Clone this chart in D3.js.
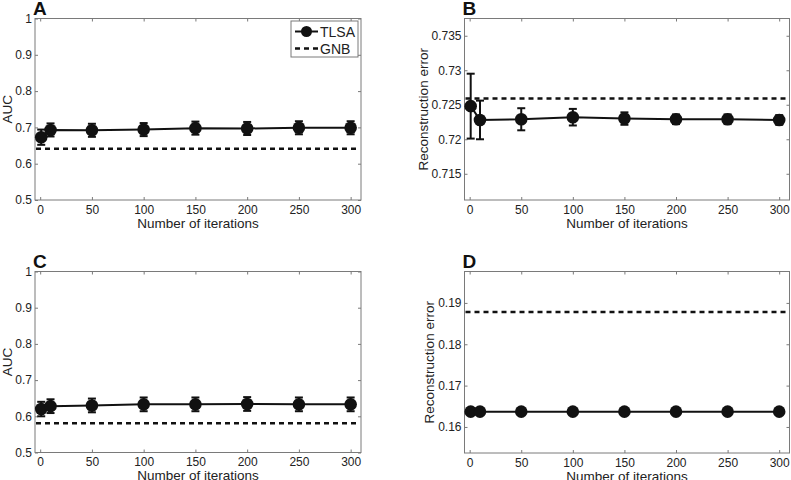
<!DOCTYPE html>
<html>
<head>
<meta charset="utf-8">
<script src="https://cdn.jsdelivr.net/npm/d3@7"></script>
<style>
  body { margin: 0; background: #fff; }
  svg { display: block; }
  svg text { font-family: "Liberation Sans", Arial, sans-serif; }
</style>
</head>
<body>
<svg id="chart" width="791" height="480"></svg>
<script>
const iterations = [1, 10, 50, 100, 150, 200, 250, 300];
const xTicks = [0, 50, 100, 150, 200, 250, 300];

// A: AUC
const aucA = [0.673, 0.693, 0.692, 0.694, 0.698, 0.697, 0.699, 0.699];
const aucAErr = [0.021, 0.018, 0.018, 0.018, 0.018, 0.018, 0.018, 0.018];
const gnbA = 0.641;

// B: reconstruction error
const reconB = [0.7248, 0.7228, 0.7229, 0.7232, 0.7230, 0.7229, 0.7229, 0.7228];
const reconBErr = [0.0047, 0.0028, 0.0016, 0.0012, 0.0009, 0.0007, 0.0007, 0.0007];
const gnbB = 0.7259;

// C: AUC
const aucC = [0.620, 0.628, 0.630, 0.633, 0.633, 0.634, 0.633, 0.633];
const aucCErr = [0.02, 0.019, 0.019, 0.019, 0.019, 0.019, 0.019, 0.019];
const gnbC = 0.581;

// D: reconstruction error
const reconD = [0.1637, 0.1637, 0.1637, 0.1637, 0.1637, 0.1637, 0.1637, 0.1637];
const reconDErr = [0, 0, 0, 0, 0, 0, 0, 0];
const gnbD = 0.1878;

const aucTicks = [0.5, 0.6, 0.7, 0.8, 0.9, 1];
const reconBTicks = [0.715, 0.72, 0.725, 0.73, 0.735];
const reconDTicks = [0.16, 0.17, 0.18, 0.19];

const panels = [
  { letter: 'A', left: 35, right: 361, top: 18.5, bottom: 200, yDomain: [0.5, 1], yTicks: aucTicks,
    ylabel: 'AUC', ylabelX: 7, values: aucA, errs: aucAErr, gnb: gnbA, legend: true },
  { letter: 'B', left: 464.5, right: 789.5, top: 18.5, bottom: 200, yDomain: [0.7112, 0.7375], yTicks: reconBTicks,
    ylabel: 'Reconstruction error', ylabelX: 423, values: reconB, errs: reconBErr, gnb: gnbB },
  { letter: 'C', left: 35, right: 361, top: 271.5, bottom: 452.5, yDomain: [0.5, 1], yTicks: aucTicks,
    ylabel: 'AUC', ylabelX: 7, values: aucC, errs: aucCErr, gnb: gnbC },
  { letter: 'D', left: 464.5, right: 789.5, top: 271.5, bottom: 453, yDomain: [0.1537, 0.1976], yTicks: reconDTicks,
    ylabel: 'Reconstruction error', ylabelX: 429, values: reconD, errs: reconDErr, gnb: gnbD }
];

const svg = d3.select('#chart');
const axisColor = '#7a7a7a';
const textColor = '#222';
const fmt = d3.format('~g');

panels.forEach((p) => {
  const x = d3.scaleLinear().domain([-5, 310]).range([p.left, p.right]);
  const y = d3.scaleLinear().domain(p.yDomain).range([p.bottom, p.top]);
  const g = svg.append('g');

  // box
  g.append('rect')
    .attr('x', p.left).attr('y', p.top)
    .attr('width', p.right - p.left).attr('height', p.bottom - p.top)
    .attr('fill', 'none').attr('stroke', axisColor).attr('stroke-width', 1);

  // axes with inward ticks, mirrored on top/right
  const styleAxis = (sel) => {
    sel.attr('font-family', null).attr('font-size', null);
    sel.select('.domain').remove();
    sel.selectAll('.tick line').attr('stroke', axisColor);
    sel.selectAll('.tick text').attr('fill', textColor).style('font-size', '12px');
  };
  g.append('g').attr('transform', `translate(0,${p.bottom})`)
    .call(d3.axisBottom(x).tickValues(xTicks).tickSizeInner(-3).tickPadding(5).tickFormat(fmt))
    .call(styleAxis);
  g.append('g').attr('transform', `translate(0,${p.top})`)
    .call(d3.axisTop(x).tickValues(xTicks).tickSizeInner(-3).tickFormat(''))
    .call(styleAxis);
  g.append('g').attr('transform', `translate(${p.left},0)`)
    .call(d3.axisLeft(y).tickValues(p.yTicks).tickSizeInner(-3).tickPadding(3).tickFormat(fmt))
    .call(styleAxis);
  g.append('g').attr('transform', `translate(${p.right},0)`)
    .call(d3.axisRight(y).tickValues(p.yTicks).tickSizeInner(-3).tickFormat(''))
    .call(styleAxis);

  // labels
  g.append('text')
    .attr('x', (p.left + p.right) / 2).attr('y', p.bottom + 27.5)
    .attr('text-anchor', 'middle').attr('fill', textColor).style('font-size', '13.5px')
    .text('Number of iterations');
  g.append('text')
    .attr('transform', `translate(${p.ylabelX},${(p.top + p.bottom) / 2}) rotate(-90)`)
    .attr('text-anchor', 'middle').attr('dy', '0.36em').attr('fill', textColor).style('font-size', '13.5px')
    .text(p.ylabel);
  g.append('text')
    .attr('x', p.left - 2).attr('y', p.top - 3.5)
    .attr('fill', '#111').style('font-size', '19px').style('font-weight', 'bold')
    .text(p.letter);

  // GNB dashed baseline
  g.append('line')
    .attr('x1', p.left + 1).attr('x2', p.right - 1)
    .attr('y1', y(p.gnb)).attr('y2', y(p.gnb))
    .attr('stroke', '#111').attr('stroke-width', 2.5).attr('stroke-dasharray', '5,4');

  const pts = iterations.map((it, i) => ({ it, v: p.values[i], e: p.errs[i] }));

  // TLSA line
  g.append('path')
    .datum(pts)
    .attr('fill', 'none').attr('stroke', '#111').attr('stroke-width', 2)
    .attr('d', d3.line().x((d) => x(d.it)).y((d) => y(d.v)));

  // error bars
  const eb = g.selectAll('.eb').data(pts.filter((d) => d.e > 0)).enter().append('g')
    .attr('stroke', '#111').attr('stroke-width', 2);
  eb.append('line')
    .attr('x1', (d) => x(d.it)).attr('x2', (d) => x(d.it))
    .attr('y1', (d) => y(d.v - d.e)).attr('y2', (d) => y(d.v + d.e));
  eb.append('line')
    .attr('x1', (d) => x(d.it) - 4).attr('x2', (d) => x(d.it) + 4)
    .attr('y1', (d) => y(d.v - d.e)).attr('y2', (d) => y(d.v - d.e));
  eb.append('line')
    .attr('x1', (d) => x(d.it) - 4).attr('x2', (d) => x(d.it) + 4)
    .attr('y1', (d) => y(d.v + d.e)).attr('y2', (d) => y(d.v + d.e));

  // markers
  g.selectAll('.mk').data(pts).enter().append('circle')
    .attr('cx', (d) => x(d.it)).attr('cy', (d) => y(d.v))
    .attr('r', 6.3).attr('fill', '#111');

  if (p.legend) {
    const lg = g.append('g');
    lg.append('rect').attr('x', 291).attr('y', 21).attr('width', 67).attr('height', 36)
      .attr('fill', '#fff').attr('stroke', axisColor);
    lg.append('line').attr('x1', 295).attr('x2', 318).attr('y1', 31.5).attr('y2', 31.5)
      .attr('stroke', '#111').attr('stroke-width', 2);
    lg.append('circle').attr('cx', 306.5).attr('cy', 31.5).attr('r', 5.5).attr('fill', '#111');
    lg.append('line').attr('x1', 295).attr('x2', 318).attr('y1', 48.5).attr('y2', 48.5)
      .attr('stroke', '#111').attr('stroke-width', 2.5).attr('stroke-dasharray', '5,4');
    lg.append('text').attr('x', 320).attr('y', 36.5).attr('fill', textColor).style('font-size', '14px').text('TLSA');
    lg.append('text').attr('x', 320).attr('y', 53.5).attr('fill', textColor).style('font-size', '14px').text('GNB');
  }
});
</script>
</body>
</html>
